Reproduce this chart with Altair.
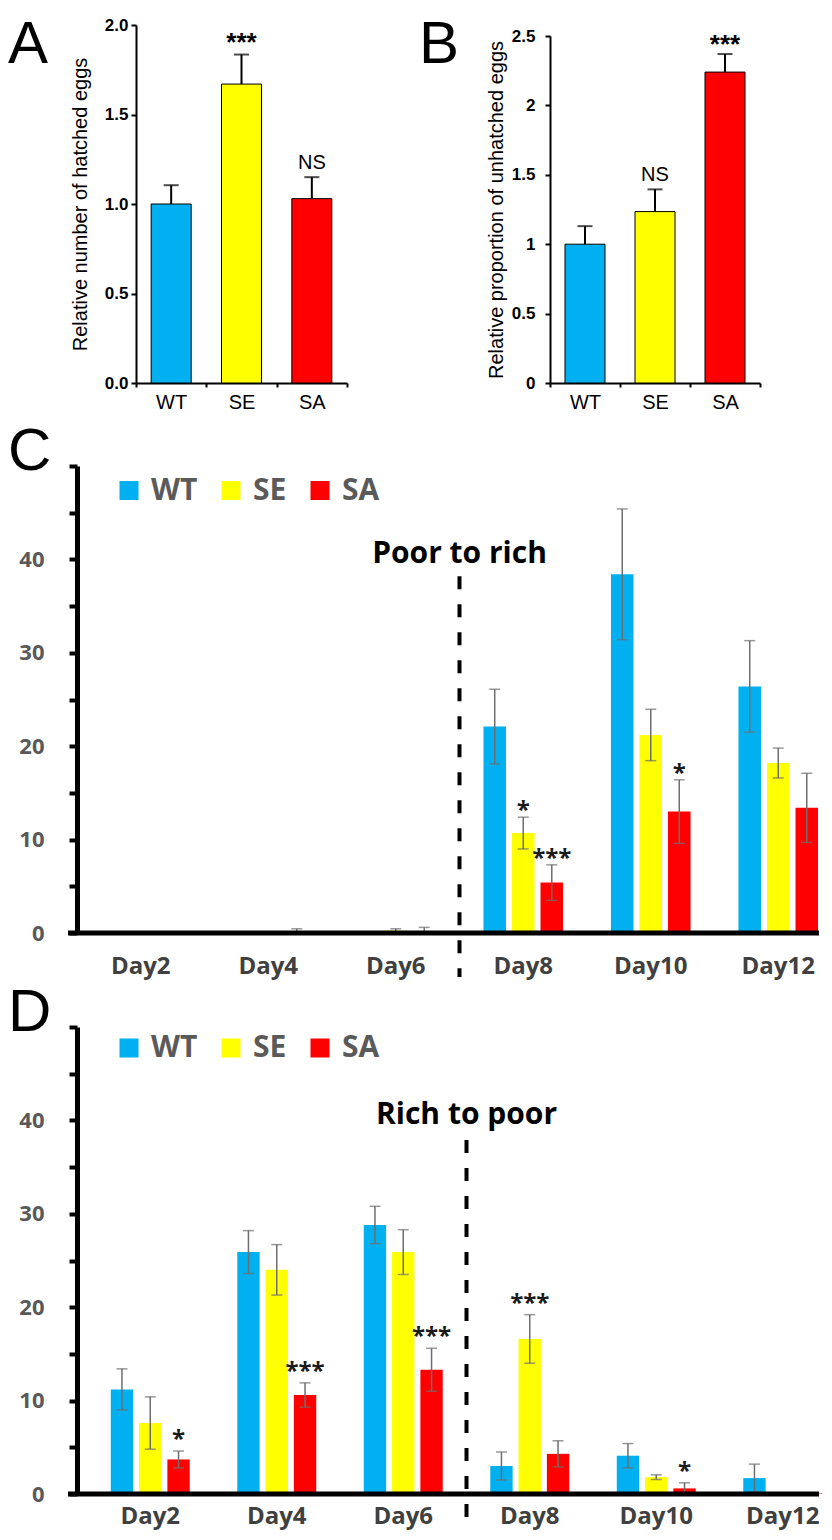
import altair as alt
import pandas as pd

# ---------------- data ----------------
groups = ["WT", "SE", "SA"]
bar_colors = ["#00B0F0", "#FFFF00", "#FF0000"]

# Panel A
hatched_mean = [1.00, 1.67, 1.03]
hatched_err = [0.105, 0.165, 0.12]
hatched_sig = ["", "***", "NS"]

# Panel B
unhatched_mean = [1.00, 1.235, 2.24]
unhatched_err = [0.13, 0.16, 0.13]
unhatched_sig = ["", "NS", "***"]

days = ["Day2", "Day4", "Day6", "Day8", "Day10", "Day12"]

# Panel C (poor to rich)
c_wt = [0.0, 0.0, 0.05, 22.1, 38.4, 26.4]
c_wt_err = [0.0, 0.0, 0.05, 4.0, 7.0, 4.9]
c_wt_sig = ["", "", "", "", "", ""]
c_se = [0.0, 0.05, 0.25, 10.7, 21.2, 18.2]
c_se_err = [0.0, 0.05, 0.2, 1.7, 2.75, 1.6]
c_se_sig = ["", "", "", "*", "", ""]
c_sa = [0.0, 0.2, 0.2, 5.4, 13.0, 13.4]
c_sa_err = [0.0, 0.25, 0.4, 1.9, 3.4, 3.7]
c_sa_sig = ["", "", "", "***", "*", ""]

# Panel D (rich to poor)
d_wt = [11.2, 25.9, 28.8, 3.0, 4.1, 1.7]
d_wt_err = [2.2, 2.3, 2.0, 1.5, 1.3, 1.5]
d_wt_sig = ["", "", "", "", "", ""]
d_se = [7.6, 24.0, 25.9, 16.6, 1.8, 0.05]
d_se_err = [2.8, 2.7, 2.4, 2.6, 0.25, 0.05]
d_se_sig = ["", "", "", "***", "", ""]
d_sa = [3.7, 10.6, 13.3, 4.3, 0.6, 0.05]
d_sa_err = [0.9, 1.3, 2.3, 1.4, 0.6, 0.05]
d_sa_sig = ["*", "***", "***", "", "*", ""]

panel_letters = ["A", "B", "C", "D"]
y_titles = ["Relative number of hatched eggs", "Relative proportion of unhatched eggs"]
a_ticks = [0.0, 0.5, 1.0, 1.5, 2.0]
b_ticks = [0, 0.5, 1, 1.5, 2, 2.5]
cd_ticks = [0, 5, 10, 15, 20, 25, 30, 35, 40, 45, 50]
notes = ["Poor to rich", "Rich to poor"]
note_level = [39.6, 39.6]
dash_level = [38.2, 37.9]
switch_day = "Day8"

ARIAL = "Liberation Sans"
OPEN = "Open Sans"


def small_panel(letter, means, errs, sigs, ytitle, ymax, yticks, yfmt, W, H,
                x_range, y_range, axis_shift, label_pad, title_x, letter_x, letter_y, star_dy):
    df = pd.DataFrame({"g": groups, "m": means, "e": errs, "s": sigs})
    df["hi"] = df["m"] + df["e"]
    base = alt.Chart(df)
    xs = alt.Scale(domain=groups, range=x_range, paddingInner=0, paddingOuter=0)
    xaxis = alt.Axis(labelAngle=0, tickBand="extent", tickSize=4, tickWidth=2,
                     tickColor="black", domainColor="black", domainWidth=2,
                     labelFont=ARIAL, labelFontSize=20, labelColor="black",
                     labelPadding=5, grid=False)
    ys = alt.Scale(domain=[0, ymax], range=y_range, nice=False, zero=True)
    yaxis = alt.Axis(values=yticks, format=yfmt, grid=False, domainColor="black",
                     domainWidth=2, tickColor="black", tickWidth=2, tickSize=5,
                     labelFont=ARIAL, labelFontWeight="bold", labelFontSize=17,
                     labelColor="black", labelPadding=label_pad, labelOverlap=False,
                     titleFont=ARIAL, titleFontSize=20, titleFontWeight="normal",
                     titleColor="black", titleX=title_x,
                     titleY=(y_range[0] + y_range[1]) / 2,
                     titleBaseline="middle", offset=axis_shift)

    def X():
        return alt.X("g:N", sort=groups, scale=xs, title=None, axis=xaxis)

    def Y(f):
        return alt.Y(f, scale=ys, title=ytitle, axis=yaxis)

    bars = base.mark_bar(size=40, stroke="black", strokeWidth=1).encode(
        x=X(), y=Y("m:Q"),
        color=alt.Color("g:N", sort=groups,
                        scale=alt.Scale(domain=groups, range=bar_colors), legend=None))
    err = base.mark_rule(color="black", strokeWidth=2).encode(
        x=X(), y=Y("m:Q"), y2="hi:Q")
    cap = base.mark_tick(color="black", thickness=2, size=15).encode(x=X(), y=Y("hi:Q"))
    stars = base.transform_filter("datum.s == '***'").mark_text(
        font=ARIAL, fontWeight="bold", fontSize=26, color="black",
        baseline="alphabetic", dy=star_dy).encode(x=X(), y=Y("hi:Q"), text="s:N")
    ns = base.transform_filter("datum.s == 'NS'").mark_text(
        font=ARIAL, fontSize=20, color="black", baseline="alphabetic", dy=-8.5
    ).encode(x=X(), y=Y("hi:Q"), text="s:N")
    let = alt.Chart(pd.DataFrame({"t": [letter]})).mark_text(
        font=ARIAL, fontSize=60, color="black", align="left", baseline="top"
    ).encode(x=alt.value(letter_x), y=alt.value(letter_y), text="t:N")
    return alt.layer(bars, err, cap, stars, ns, let).properties(width=W, height=H)


def big_panel(letter, series, note, note_y, dash_y, x_range, W, H, label_pad,
              legend_y, star_dy, dash_extend):
    rows = []
    for g, (means, errs, sigs) in zip(groups, series):
        for d, m, e, s in zip(days, means, errs, sigs):
            rows.append({"day": d, "g": g, "m": m, "e": e,
                         "lo": max(m - e, 0.0), "hi": m + e, "s": s})
    df = pd.DataFrame(rows)
    xs = alt.Scale(domain=days, range=x_range, paddingInner=0, paddingOuter=0)

    def X(**kw):
        return alt.X("day:N", sort=days, scale=xs, title=None, axis=None, **kw)

    XO = alt.XOffset("g:N", sort=groups,
                     scale=alt.Scale(domain=groups, paddingInner=0.21, paddingOuter=0.84))
    ys = alt.Scale(domain=[0, 50], nice=False, zero=True)
    yaxis = alt.Axis(values=cd_ticks,
                     labelExpr="datum.value % 10 == 0 && datum.value < 50 ? datum.label : ''",
                     grid=False, domainColor="black", domainWidth=5, tickColor="black",
                     tickWidth=4, tickSize=8, labelFont=OPEN, labelFontWeight="bold",
                     labelFontSize=22, labelColor="#595959", labelPadding=25,
                     labelOverlap=False)

    def Y(f):
        return alt.Y(f, scale=ys, title=None, axis=yaxis)

    base = alt.Chart(df)
    color = alt.Color("g:N", sort=groups,
                      scale=alt.Scale(domain=groups, range=bar_colors),
                      legend=alt.Legend(title=None, orient="none", legendX=37,
                                        legendY=legend_y, direction="horizontal",
                                        symbolType="square", symbolSize=361,
                                        symbolStrokeWidth=0, labelFont=OPEN,
                                        labelFontWeight="bold",
                                        labelFontSize=30, labelColor="#5a5a5a",
                                        labelOffset=7, columnPadding=18, padding=0))
    bars = base.mark_bar().encode(x=X(), xOffset=XO, y=Y("m:Q"), color=color)
    errs = base.transform_filter("datum.e > 0")
    err_rule = errs.mark_rule(color="#6e6e6e", strokeWidth=1.5).encode(
        x=X(), xOffset=XO, y=Y("lo:Q"), y2="hi:Q")
    cap_hi = errs.mark_tick(color="#6e6e6e", thickness=1.5, size=11).encode(
        x=X(), xOffset=XO, y=Y("hi:Q"))
    cap_lo = errs.mark_tick(color="#6e6e6e", thickness=1.5, size=11).encode(
        x=X(), xOffset=XO, y=Y("lo:Q"))
    stars = base.transform_filter("datum.s != ''").mark_text(
        font=OPEN, fontWeight="bold", fontSize=24, color="#1a1a1a",
        baseline="alphabetic", dy=star_dy).encode(x=X(), xOffset=XO, y=Y("hi:Q"), text="s:N")
    sep = alt.Chart(pd.DataFrame({"day": [switch_day], "v": [dash_y]})).mark_rule(
        color="black", strokeWidth=4, strokeDash=[13, 15]).encode(
        x=X(bandPosition=0), y=Y("v:Q"), y2=alt.value(H + dash_extend))
    note_l = alt.Chart(pd.DataFrame({"day": [switch_day], "v": [note_y], "t": [note]})).mark_text(
        font=OPEN, fontWeight="bold", fontSize=30, color="black",
        baseline="alphabetic", align="center").encode(
        x=X(bandPosition=0), y=Y("v:Q"), text="t:N")
    day_labels = alt.Chart(pd.DataFrame({"day": days, "v": [0.0] * len(days)})).mark_text(
        font=OPEN, fontWeight="bold", fontSize=24, color="#404040",
        baseline="top", align="center", dy=label_pad).encode(
        x=X(), y=Y("v:Q"), text="day:N")
    base_line = alt.Chart(pd.DataFrame({"v": [0.0]})).mark_rule(
        color="black", strokeWidth=5).encode(x=alt.value(-9), x2=alt.value(W), y=Y("v:Q"))
    let = alt.Chart(pd.DataFrame({"t": [letter]})).mark_text(
        font=ARIAL, fontSize=60, color="black", align="left", baseline="top"
    ).encode(x=alt.value(-69), y=alt.value(-43), text="t:N")
    return alt.layer(bars, err_rule, cap_hi, cap_lo, stars, sep, note_l, day_labels,
                     base_line, let).properties(width=W, height=H)


panel_a = small_panel(panel_letters[0], hatched_mean, hatched_err, hatched_sig, y_titles[0],
                      2.0, a_ticks, ".1f", 270, 358, [59, 270], [358, 0], -59, 3, -56,
                      -69, -9, -4)
panel_b = small_panel(panel_letters[1], unhatched_mean, unhatched_err, unhatched_sig, y_titles[1],
                      2.5, b_ticks, "~g", 210, 358, [0, 210], [358, 11], 0, 10, -54,
                      -131, -9, -1)

panel_c = big_panel(panel_letters[2],
                    [(c_wt, c_wt_err, c_wt_sig), (c_se, c_se_err, c_se_sig), (c_sa, c_sa_err, c_sa_sig)],
                    notes[0], note_level[0], dash_level[0], [0, 765], 742, 467, 22, 9.5, 1, 44)
panel_d = big_panel(panel_letters[3],
                    [(d_wt, d_wt_err, d_wt_sig), (d_se, d_se_err, d_se_sig), (d_sa, d_sa_err, d_sa_sig)],
                    notes[1], note_level[1], dash_level[1], [10, 769], 742, 467, 11, 6, -4, 33)

res = dict(x="independent", y="independent", color="independent", xOffset="independent")

row1 = alt.hconcat(panel_a, panel_b, spacing=71).resolve_scale(**res)
upper = alt.vconcat(row1, panel_c, spacing=10).resolve_scale(**res).resolve_legend(color="independent")
chart = (alt.vconcat(upper, panel_d, spacing=4)
         .resolve_scale(**res)
         .resolve_legend(color="independent")
         .properties(padding={"left": 0, "top": 7, "right": 0, "bottom": 3})
         .configure_view(strokeWidth=0))

chart.save("out.html", embed_options={"renderer": "svg", "actions": False})
